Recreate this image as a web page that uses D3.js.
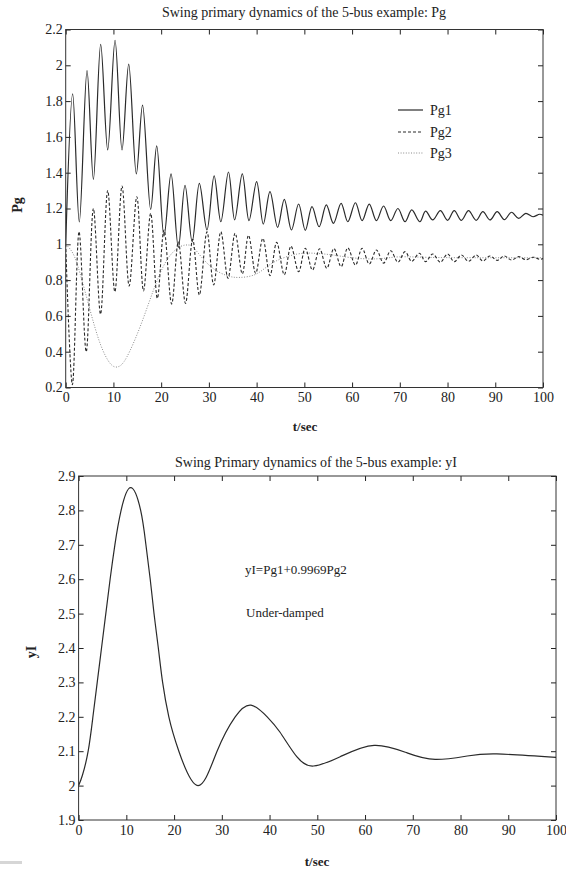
<!DOCTYPE html>
<html>
<head>
<meta charset="utf-8">
<script src="https://cdn.jsdelivr.net/npm/d3@7"></script>
<style>
  html, body { margin: 0; padding: 0; background: #fff; }
  svg { display: block; }
  text { font-family: "Liberation Serif", "DejaVu Serif", serif; fill: #222; }
</style>
</head>
<body>
<svg id="chart" width="566" height="872"></svg>
<script>
// ---------------- DATA ----------------
const topTitle = "Swing primary dynamics of the 5-bus example: Pg";
const bottomTitle = "Swing Primary dynamics of the 5-bus example: yI";
const xTicks = [0, 10, 20, 30, 40, 50, 60, 70, 80, 90, 100];
const topYTicks = [0.2, 0.4, 0.6, 0.8, 1.0, 1.2, 1.4, 1.6, 1.8, 2.0, 2.2];
const bottomYTicks = [1.9, 2.0, 2.1, 2.2, 2.3, 2.4, 2.5, 2.6, 2.7, 2.8, 2.9];
const legendNames = ["Pg1", "Pg2", "Pg3"];

// Pg1: turning points [t, value]
const pg1 = [
  [0,1.0],[1.46,1.84],[2.85,1.125],[4.47,1.97],[5.8,1.363],[7.33,2.117],[8.8,1.527],
  [10.34,2.14],[11.8,1.527],[13.2,2.007],[14.8,1.393],[16.1,1.778],[17.8,1.195],
  [19.07,1.55],[20.6,1.046],[22.07,1.393],[23.6,0.983],[25.0,1.33],[26.5,1.014],
  [28.0,1.34],[29.6,1.08],[31.1,1.382],[32.5,1.126],[34.1,1.404],[35.4,1.136],
  [37.0,1.393],[38.4,1.132],[40.0,1.35],[41.4,1.113],[42.8,1.294],[44.4,1.095],
  [45.8,1.251],[47.3,1.08],[48.8,1.225],[50.2,1.078],[51.6,1.21],[53.1,1.098],
  [54.6,1.22],[56.1,1.117],[57.7,1.229],[59.1,1.126],[60.7,1.232],[62.1,1.132],
  [63.6,1.225],[65.1,1.132],[66.6,1.214],[68.1,1.132],[69.6,1.2],[71.1,1.126],
  [72.5,1.192],[74.2,1.126],[75.4,1.185],[76.9,1.136],[78.5,1.188],[80.0,1.134],
  [81.4,1.188],[82.9,1.134],[84.4,1.188],[86.0,1.134],[87.4,1.182],[88.9,1.136],
  [90.4,1.182],[91.9,1.138],[93.4,1.179],[94.9,1.145],[96.4,1.173],[97.9,1.154],
  [99.3,1.168],[100,1.162]
];

// Pg2: turning points [t, value]
const pg2 = [
  [0,1.0],[1.4,0.215],[2.8,1.07],[4.3,0.40],[5.8,1.2],[7.3,0.61],[8.8,1.30],
  [10.3,0.735],[11.8,1.326],[13.3,0.767],[14.9,1.266],[16.3,0.74],[17.8,1.173],
  [19.2,0.698],[20.6,1.08],[22.2,0.666],[23.6,1.014],[25.1,0.67],[26.6,1.028],
  [28.0,0.717],[29.6,1.07],[31.0,0.773],[32.5,1.07],[34.0,0.81],[35.5,1.062],
  [37.0,0.835],[38.3,1.05],[39.8,0.838],[41.3,1.033],[42.8,0.825],[44.2,1.011],
  [45.8,0.83],[47.2,0.99],[48.8,0.847],[50.2,0.978],[51.7,0.856],[53.2,0.975],
  [54.7,0.866],[56.2,0.976],[57.7,0.875],[59.1,0.98],[60.7,0.884],[62.1,0.978],
  [63.6,0.89],[65.1,0.968],[66.6,0.895],[68.1,0.964],[69.6,0.90],[71.1,0.959],
  [72.5,0.905],[74.1,0.95],[75.4,0.903],[76.9,0.946],[78.5,0.9],[80.0,0.946],
  [81.4,0.903],[82.9,0.94],[84.4,0.905],[86.0,0.94],[87.4,0.907],[88.9,0.935],
  [90.4,0.91],[91.9,0.935],[93.4,0.912],[94.9,0.931],[96.4,0.914],[97.9,0.928],
  [99.3,0.916],[100,0.92]
];

// Pg3: slow curve [t, value]
const pg3 = [
  [0,1.0],[1.5,0.95],[3.0,0.838],[5.1,0.633],[7.2,0.447],[9.3,0.335],[11.0,0.316],
  [12.8,0.37],[15.6,0.54],[18.4,0.745],[21.2,0.912],[24.0,0.987],[25.7,0.996],
  [27.0,0.975],[30.2,0.88],[33.8,0.825],[36.5,0.815],[40.0,0.835],[43.6,0.90],
  [48.4,0.945],[52.0,0.95],[56.0,0.94],[61.0,0.922],[66.0,0.92],[70.0,0.93],
  [76.0,0.927],[85.0,0.925],[100,0.925]
];

// yI = Pg1 + 0.9969 Pg2
const yI = [
  [0,2.0],[0.8,2.03],[2.0,2.1],[3.0,2.2],[3.9,2.3],[4.8,2.4],[5.7,2.5],[6.6,2.6],
  [7.6,2.7],[8.9,2.8],[10.9,2.866],[13.0,2.8],[14.1,2.7],[15.0,2.6],[15.8,2.5],
  [16.7,2.4],[17.6,2.3],[18.9,2.2],[21.0,2.1],[25.0,2.0],
  [29.0,2.1],[32.8,2.2],[36.1,2.234],[39.5,2.2],[42.2,2.155],[45.7,2.084],[49.2,2.057],
  [54.8,2.084],[61.9,2.117],[68.8,2.095],[74.7,2.076],[81.4,2.086],[87.6,2.092],[100,2.082]
];

// ---------------- DRAWING ----------------
const svg = d3.select("#chart");
const fmt = d => String(+d.toFixed(1));

function panel(opts) {
  const {left, right, top, bottom, ydom, yticks, id} = opts;
  const x = d3.scaleLinear().domain([0, 100]).range([left, right]);
  const y = d3.scaleLinear().domain(ydom).range([bottom, top]);
  const g = svg.append("g");

  g.append("clipPath").attr("id", id).append("rect")
    .attr("x", left).attr("y", top).attr("width", right - left).attr("height", bottom - top);

  const tk = 5;
  const axStyle = sel => {
    sel.attr("font-size", null).attr("font-family", null);
    sel.select(".domain").remove();
    sel.selectAll("line").attr("stroke", "#222");
    sel.selectAll("text").style("font-family", '"Liberation Serif", serif')
      .style("font-size", "14px").attr("fill", "#262b36");
  };
  g.append("g").attr("transform", `translate(0,${bottom})`)
    .call(d3.axisBottom(x).tickValues(xTicks).tickSize(-tk).tickPadding(5).tickFormat(fmt)).call(axStyle);
  g.append("g").attr("transform", `translate(0,${top})`)
    .call(d3.axisTop(x).tickValues(xTicks).tickSize(-tk).tickFormat("")).call(axStyle);
  g.append("g").attr("transform", `translate(${left},0)`)
    .call(d3.axisLeft(y).tickValues(yticks).tickSize(-tk).tickPadding(3).tickFormat(fmt)).call(axStyle);
  g.append("g").attr("transform", `translate(${right},0)`)
    .call(d3.axisRight(y).tickValues(yticks).tickSize(-tk).tickFormat("")).call(axStyle);

  g.append("rect").attr("x", left).attr("y", top)
    .attr("width", right - left).attr("height", bottom - top)
    .attr("fill", "none").attr("stroke", "#333").attr("stroke-width", 1);
  return {x, y, g};
}

const curveOsc = d3.curveCatmullRom.alpha(0.5);
const curveSmooth = d3.curveNatural;

// Top panel
const P1 = panel({left: 65.7, right: 543, top: 29.5, bottom: 387.5, ydom: [0.2, 2.2], yticks: topYTicks, id: "clipTop"});
const series = [
  {data: pg3, stroke: "#8a8a8a", dash: "1,1.6", w: 1, curve: curveSmooth},
  {data: pg2, stroke: "#2a2a2a", dash: "3,2", w: 1.1, curve: curveOsc},
  {data: pg1, stroke: "#2a2a2a", dash: null, w: 1.2, curve: curveOsc}
];
series.forEach(s => {
  const ln = d3.line().x(d => P1.x(d[0])).y(d => P1.y(d[1])).curve(s.curve);
  P1.g.append("path").datum(s.data).attr("clip-path", "url(#clipTop)")
    .attr("d", ln).attr("fill", "none").attr("stroke", s.stroke)
    .attr("stroke-width", s.w).attr("stroke-dasharray", s.dash);
});

// Legend
const legStyles = [series[2], series[1], series[0]];
const legY = [110, 132, 153];
legendNames.forEach((n, i) => {
  P1.g.append("line").attr("x1", 398).attr("x2", 423).attr("y1", legY[i]).attr("y2", legY[i])
    .attr("stroke", legStyles[i].stroke).attr("stroke-width", legStyles[i].w)
    .attr("stroke-dasharray", legStyles[i].dash);
  P1.g.append("text").attr("x", 430).attr("y", legY[i] + 4.5).style("font-size", "14px").text(n);
});

svg.append("text").attr("x", 304).attr("y", 17).attr("text-anchor", "middle")
  .style("font-size", "14px").text(topTitle);
svg.append("text").attr("transform", "translate(22,205) rotate(-90)").attr("text-anchor", "middle")
  .style("font-size", "14px").style("font-weight", "bold").text("Pg");
svg.append("text").attr("x", 305).attr("y", 431).attr("text-anchor", "middle")
  .style("font-size", "13px").style("font-weight", "bold").text("t/sec");

// Bottom panel
const P2 = panel({left: 78.6, right: 556, top: 476, bottom: 820, ydom: [1.9, 2.9], yticks: bottomYTicks, id: "clipBot"});
const line2 = d3.line().x(d => P2.x(d[0])).y(d => P2.y(d[1])).curve(curveSmooth);
P2.g.append("path").datum(yI).attr("clip-path", "url(#clipBot)")
  .attr("d", line2).attr("fill", "none").attr("stroke", "#2a2a2a").attr("stroke-width", 1.2);

svg.append("text").attr("x", 316).attr("y", 467).attr("text-anchor", "middle")
  .style("font-size", "14px").text(bottomTitle);
svg.append("text").attr("transform", "translate(36,652) rotate(-90)").attr("text-anchor", "middle")
  .style("font-size", "14px").style("font-weight", "bold").text("yI");
svg.append("text").attr("x", 317).attr("y", 866).attr("text-anchor", "middle")
  .style("font-size", "13px").style("font-weight", "bold").text("t/sec");
svg.append("text").attr("x", 245).attr("y", 574).style("font-size", "13px").text("yI=Pg1+0.9969Pg2");
svg.append("text").attr("x", 246).attr("y", 617).style("font-size", "13px").text("Under-damped");

// small grey mark at bottom-left
svg.append("rect").attr("x", 0).attr("y", 861).attr("width", 22).attr("height", 3).attr("fill", "#d6d6d6");
</script>
</body>
</html>
